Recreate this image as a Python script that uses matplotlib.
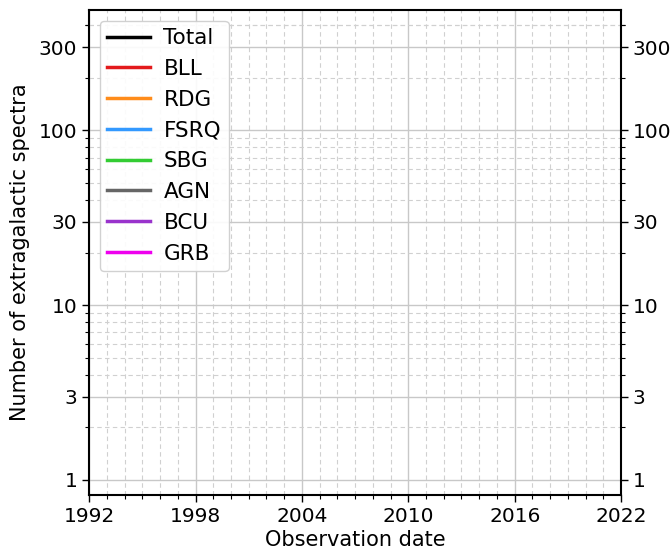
import matplotlib
matplotlib.use("Agg")
import matplotlib.pyplot as plt
import matplotlib.ticker as mticker
import numpy as np

# Data (the chart shows no plotted data points)
categories = ["Total", "BLL", "RDG", "FSRQ", "SBG", "AGN", "BCU", "GRB"]
colors = ["#000000", "#e31a1c", "#ff8c1a", "#3399ff", "#33cc33", "#666666", "#9933cc", "#ee00ee"]
dates = {c: [] for c in categories}
counts = {c: [] for c in categories}

xticks = [1992, 1998, 2004, 2010, 2016, 2022]
yticks = [1, 3, 10, 30, 100, 300]

fig = plt.figure(figsize=(6.7, 5.49), dpi=100)
ax = fig.add_axes([0.133, 0.0985, 0.794, 0.8835])

for c, col in zip(categories, colors):
    ax.plot(dates[c], counts[c], color=col, lw=2.5, label=c)

ax.set_yscale("log")
ax.set_xlim(1992, 2022)
ax.set_ylim(0.82, 490)
ax.set_xticks(xticks)
ax.set_xticklabels([str(t) for t in xticks])
ax.xaxis.set_minor_locator(mticker.MultipleLocator(1))
ax.set_yticks(yticks)
ax.set_yticklabels([str(t) for t in yticks])
minor_y = [m * 10 ** e for e in range(0, 3) for m in range(2, 10)] + [400]
ax.yaxis.set_minor_locator(mticker.FixedLocator(minor_y))
ax.yaxis.set_minor_formatter(mticker.NullFormatter())

ax.tick_params(axis="both", which="major", labelsize=14.5, length=5, width=1, direction="out")
ax.tick_params(axis="both", which="minor", length=3, width=0.8, direction="out")
ax.tick_params(axis="y", which="both", right=True, labelright=True)

ax.grid(True, which="major", color="#c8c8c8", lw=1, ls="-")
ax.grid(True, which="minor", color="#d0d0d0", lw=0.8, ls=(0, (4, 3)))
ax.set_axisbelow(True)

for s in ax.spines.values():
    s.set_linewidth(1.5)

ax.set_xlabel("Observation date", fontsize=15, labelpad=3)
ax.set_ylabel("Number of extragalactic spectra", fontsize=15, labelpad=6)

leg = ax.legend(loc="upper left", fontsize=15.5, handlelength=2.0, borderpad=0.35,
                labelspacing=0.5, handletextpad=0.6, framealpha=0.9, edgecolor="#cccccc",
                borderaxespad=0.5)

fig.savefig("out.png", dpi=100)
